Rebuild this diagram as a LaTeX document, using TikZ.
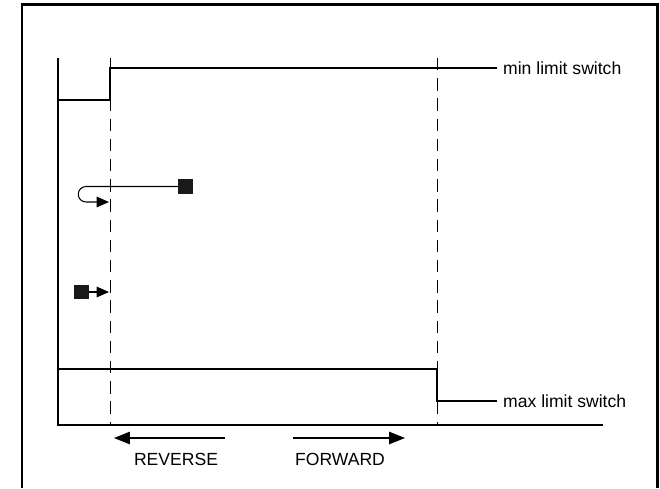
\documentclass[tikz,border=0pt]{standalone}
\usepackage{fontspec}
\setmainfont{Liberation Sans}
\usetikzlibrary{arrows.meta, positioning}

\begin{document}
\begin{tikzpicture}[
    x=0.02cm, y=-0.02cm,
    every node/.style={font=\fontsize{10}{12}\selectfont},
    frame/.style={line width=1.7pt},
    signal/.style={line width=1.1pt},
    axis/.style={line width=1.1pt},
    marker/.style={dash pattern=on 7pt off 4.5pt, line width=0.5pt},
    block/.style={fill=black!90, minimum size=0.29cm, inner sep=0pt},
    arrow/.style={-{Triangle[length=7pt,width=6pt]}, line width=0.6pt},
    bigarrow/.style={-{Triangle[length=9pt,width=7pt]}, line width=0.9pt}
]
\useasboundingbox (0,0) rectangle (660,488);
\draw[frame] (22,488) -- (22,4.5) -- (657.5,4.5) -- (657.5,488);
% axes
\coordinate (top) at (58,58);
\coordinate (origin) at (58,425);
\coordinate (end) at (603,425);
\draw[axis] (top) -- (origin) -- (end);
% position markers
\coordinate (revtop) at (110,58);
\coordinate (revbot) at (110,425);
\coordinate (fwdtop) at (437,58);
\coordinate (fwdbot) at (437,425);
\draw[marker] (revtop) -- (revbot);
\draw[marker] (fwdtop) -- (fwdbot);
% limit switches
\node[anchor=west] (minlabel) at (497,68) {min limit switch};
\node[anchor=west] (maxlabel) at (497,401) {max limit switch};
\draw[signal] (58,100) -- (110,100) -- (110,68) -- (minlabel.west);
\draw[signal] (58,369) -- (437,369) -- (437,401) -- (maxlabel.west);
% homing moves
\node[block] (start1) at (185.5,186.5) {};
\node[block] (start2) at (81.5,292) {};
\coordinate (stop1) at (109,202);
\coordinate (stop2) at (109,292);
\draw[arrow] (start1.west) -- (86,186.5) arc[start angle=270, end angle=90, radius=7.75] -- (stop1);
\draw[arrow] (start2.east) -- (stop2);
% directions
\node (rev) at (176,459) {REVERSE};
\node (fwd) at (340,459) {FORWARD};
\coordinate (revtail) at (225,438);
\coordinate (revtip) at (114,438);
\coordinate (fwdtail) at (293,438);
\coordinate (fwdtip) at (405,438);
\draw[bigarrow] (revtail) -- (revtip);
\draw[bigarrow] (fwdtail) -- (fwdtip);
\end{tikzpicture}
\end{document}
